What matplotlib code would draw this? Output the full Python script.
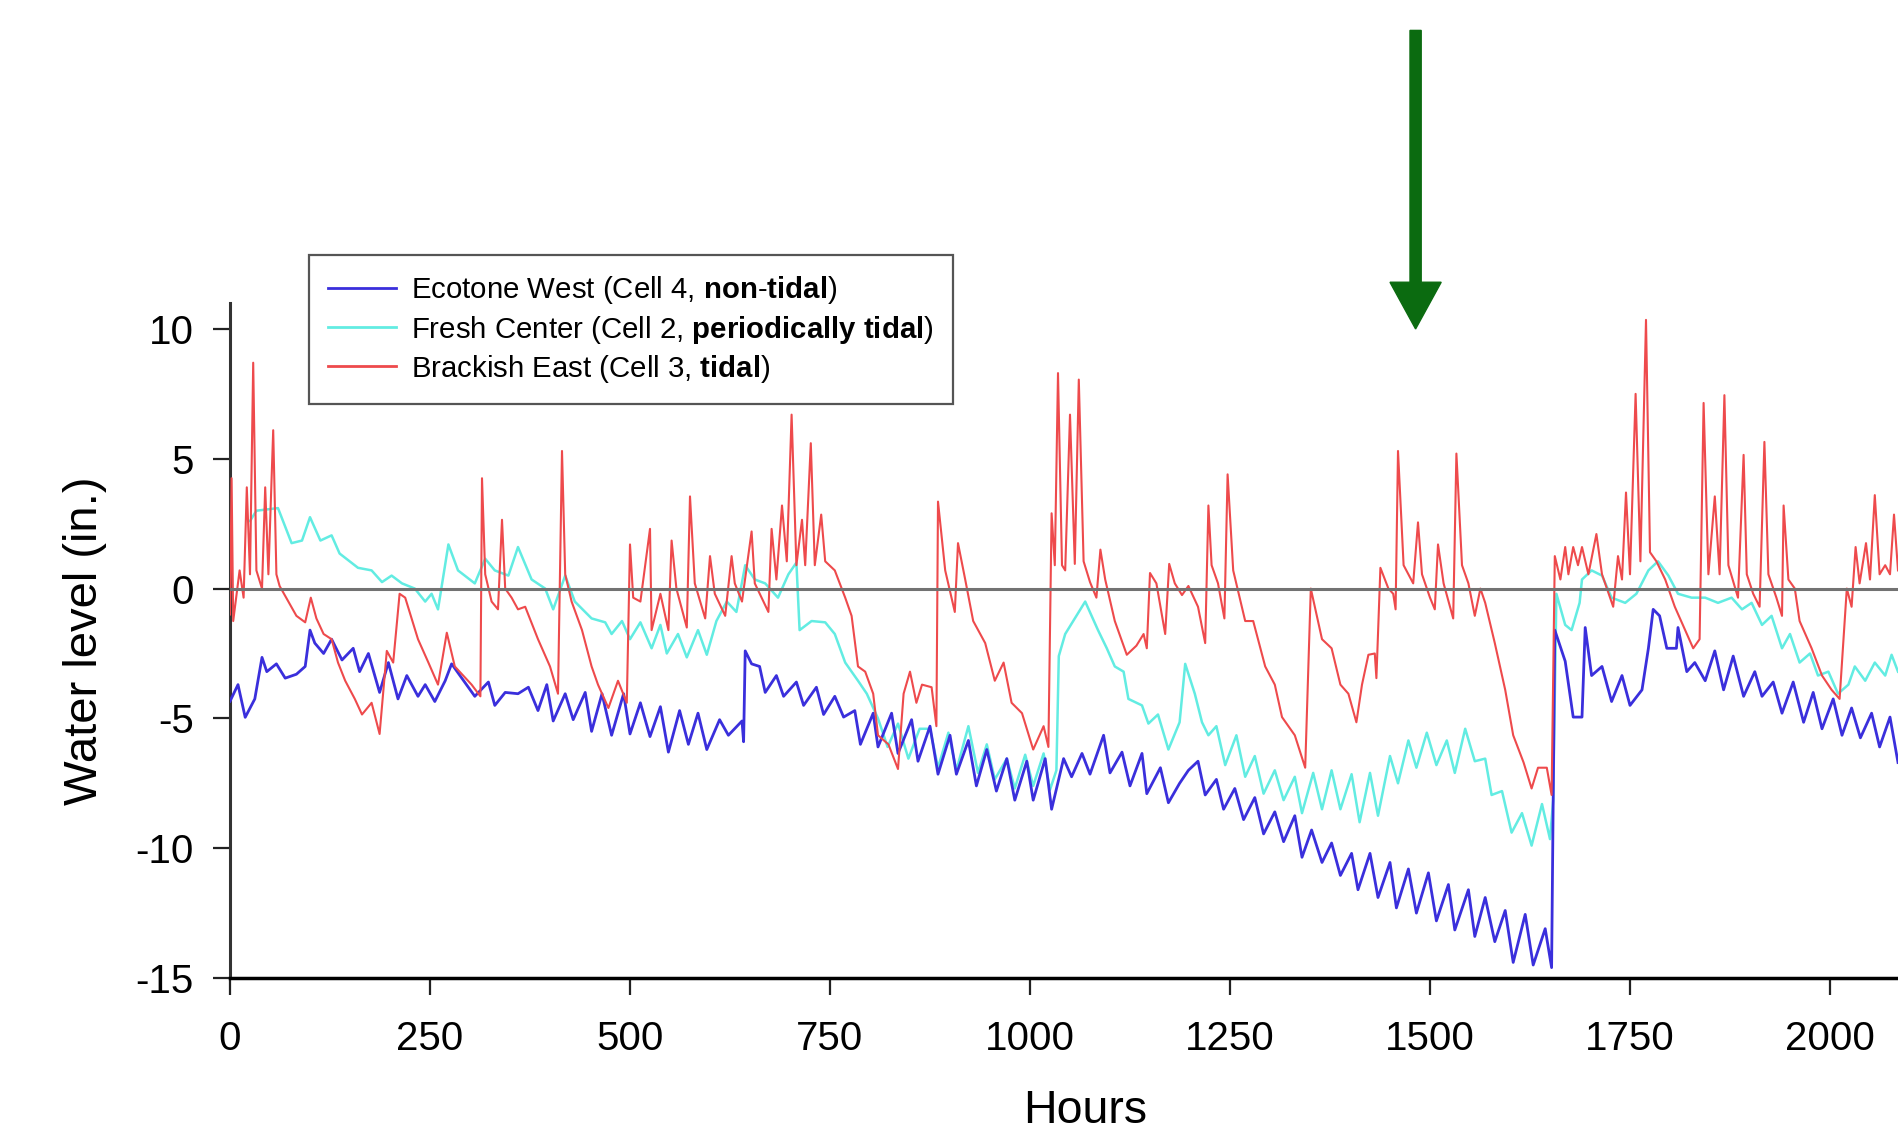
import matplotlib
matplotlib.use("Agg")
import matplotlib.pyplot as plt
from matplotlib.lines import Line2D

plt.rcParams['font.family'] = ['Liberation Sans', 'DejaVu Sans']
plt.rcParams['mathtext.fontset'] = 'custom'
plt.rcParams['mathtext.rm'] = 'Liberation Sans'
plt.rcParams['mathtext.bf'] = 'Liberation Sans:bold'
plt.rcParams['axes.unicode_minus'] = False

# Ecotone West (Cell 4) - hours / water level (in.)
eco_h = [0, 10, 19, 31, 40, 46, 58, 69, 83, 94, 100, 106, 117, 127, 140, 154, 162, 173, 187, 198,
         210, 221, 235, 244, 256, 269, 277, 292, 306, 323, 331, 344, 360, 373, 385, 396, 404, 419, 429, 444,
         452, 465, 477, 492, 500, 513, 525, 538, 548, 562, 573, 585, 596, 612, 623, 640, 642, 644, 652, 662,
         669, 683, 692, 708, 717, 733, 742, 756, 767, 781, 788, 804, 810, 827, 835, 852, 860, 875, 885, 900,
         908, 923, 933, 946, 958, 971, 981, 996, 1004, 1019, 1027, 1042, 1052, 1065, 1075, 1092, 1100, 1115, 1125, 1140,
         1146, 1163, 1173, 1187, 1198, 1210, 1219, 1233, 1242, 1256, 1267, 1281, 1292, 1306, 1317, 1331, 1340, 1352, 1365, 1377,
         1388, 1402, 1410, 1425, 1435, 1450, 1458, 1473, 1483, 1498, 1508, 1523, 1531, 1548, 1556, 1569, 1581, 1594, 1604, 1619,
         1629, 1644, 1652, 1656, 1669, 1679, 1690, 1694, 1702, 1715, 1727, 1740, 1750, 1765, 1773, 1779, 1787, 1796, 1808, 1810,
         1821, 1831, 1844, 1856, 1867, 1879, 1892, 1906, 1915, 1929, 1940, 1954, 1967, 1979, 1990, 2004, 2015, 2027, 2038, 2052,
         2062, 2075, 2085]
eco_v = [-4.34, -3.7, -4.96, -4.25, -2.65, -3.2, -2.9, -3.45, -3.3, -3.0, -1.6, -2.1, -2.5, -1.95, -2.75, -2.3, -3.2, -2.5, -4.0, -2.85,
         -4.25, -3.35, -4.15, -3.7, -4.35, -3.55, -2.9, -3.55, -4.15, -3.6, -4.5, -4.0, -4.05, -3.8, -4.7, -3.7, -5.1, -4.05, -5.05, -4.0,
         -5.5, -4.05, -5.65, -4.05, -5.6, -4.4, -5.7, -4.55, -6.3, -4.7, -6.0, -4.8, -6.2, -5.05, -5.65, -5.1, -5.9, -2.4, -2.9, -3.0,
         -4.0, -3.35, -4.15, -3.6, -4.5, -3.8, -4.85, -4.15, -4.95, -4.7, -6.0, -4.8, -6.1, -4.8, -6.35, -5.05, -6.65, -5.3, -7.15, -5.65,
         -7.15, -5.85, -7.6, -6.2, -7.8, -6.55, -8.15, -6.65, -8.15, -6.55, -8.5, -6.55, -7.25, -6.35, -7.15, -5.65, -7.1, -6.3, -7.6, -6.35,
         -7.9, -6.9, -8.25, -7.5, -7.0, -6.65, -7.95, -7.35, -8.5, -7.7, -8.9, -8.05, -9.45, -8.6, -9.75, -8.75, -10.35, -9.3, -10.55, -9.8,
         -11.05, -10.2, -11.6, -10.2, -11.9, -10.55, -12.3, -10.8, -12.5, -10.95, -12.8, -11.4, -13.15, -11.6, -13.4, -11.9, -13.6, -12.4, -14.4, -12.55,
         -14.5, -13.1, -14.6, -1.6, -2.8, -4.95, -4.95, -1.5, -3.35, -3.0, -4.35, -3.35, -4.5, -3.9, -2.3, -0.8, -1.05, -2.3, -2.3, -1.5,
         -3.2, -2.85, -3.55, -2.4, -3.9, -2.6, -4.15, -3.2, -4.15, -3.6, -4.8, -3.6, -5.15, -4.0, -5.4, -4.25, -5.65, -4.6, -5.75, -4.8,
         -6.1, -4.95, -6.7]

# Fresh Center (Cell 2)
fresh_h = [25, 33, 60, 77, 90, 100, 113, 127, 137, 160, 177, 190, 202, 215, 231, 244, 252, 260, 273, 285,
           306, 319, 331, 348, 360, 377, 394, 404, 419, 431, 452, 469, 477, 490, 500, 513, 527, 538, 546, 560,
           571, 585, 596, 608, 621, 633, 644, 656, 669, 685, 698, 708, 712, 727, 744, 756, 769, 785, 796, 810,
           822, 835, 848, 862, 875, 885, 898, 908, 923, 935, 946, 956, 971, 981, 994, 1004, 1017, 1025, 1033, 1036,
           1044, 1069, 1085, 1096, 1106, 1117, 1123, 1140, 1148, 1160, 1173, 1187, 1194, 1206, 1215, 1223, 1233, 1244, 1258, 1269,
           1281, 1292, 1306, 1317, 1331, 1340, 1354, 1365, 1377, 1388, 1402, 1412, 1425, 1435, 1450, 1460, 1473, 1483, 1496, 1508,
           1521, 1531, 1544, 1556, 1569, 1577, 1590, 1602, 1615, 1627, 1640, 1650, 1654, 1658, 1669, 1677, 1687, 1690, 1702, 1715,
           1727, 1744, 1758, 1773, 1785, 1798, 1810, 1827, 1844, 1860, 1877, 1890, 1902, 1915, 1927, 1940, 1950, 1962, 1975, 1985,
           1998, 2010, 2023, 2031, 2044, 2056, 2069, 2077, 2085]
fresh_v = [2.6, 3.0, 3.1, 1.75, 1.85, 2.75, 1.85, 2.05, 1.35, 0.8, 0.7, 0.25, 0.5, 0.2, 0.0, -0.5, -0.2, -0.8, 1.7, 0.7,
           0.2, 1.15, 0.7, 0.5, 1.6, 0.35, 0.0, -0.8, 0.5, -0.5, -1.15, -1.3, -1.75, -1.25, -1.95, -1.3, -2.3, -1.4, -2.5, -1.75,
           -2.65, -1.6, -2.55, -1.25, -0.5, -0.9, 0.9, 0.35, 0.2, -0.35, 0.55, 1.0, -1.6, -1.25, -1.3, -1.75, -2.85, -3.55, -4.05, -5.0,
           -6.1, -5.2, -6.55, -5.4, -5.4, -6.9, -5.55, -7.0, -5.3, -7.1, -6.0, -7.35, -6.55, -7.7, -6.4, -7.6, -6.35, -7.75, -7.0, -2.6,
           -1.75, -0.5, -1.6, -2.3, -3.0, -3.2, -4.25, -4.5, -5.2, -4.85, -6.2, -5.15, -2.9, -4.05, -5.15, -5.65, -5.3, -6.8, -5.65, -7.25,
           -6.45, -7.9, -7.0, -8.15, -7.25, -8.65, -7.1, -8.5, -7.0, -8.5, -7.15, -9.0, -7.1, -8.75, -6.45, -7.5, -5.85, -6.9, -5.55, -6.8,
           -5.85, -7.1, -5.4, -6.65, -6.55, -7.95, -7.8, -9.4, -8.65, -9.9, -8.3, -9.65, -8.15, -0.2, -1.4, -1.6, -0.55, 0.35, 0.7, 0.5,
           -0.35, -0.55, -0.2, 0.7, 1.05, 0.5, -0.2, -0.35, -0.35, -0.55, -0.35, -0.8, -0.55, -1.4, -1.05, -2.3, -1.75, -2.85, -2.5, -3.35,
           -3.2, -4.05, -3.7, -3.0, -3.55, -2.85, -3.35, -2.55, -3.2]

# Brackish East (Cell 3)
brack_h = [0, 2, 4, 12, 17, 21, 25, 29, 33, 40, 44, 48, 54, 58, 62, 73, 83, 94, 101, 108,
           117, 127, 135, 144, 156, 165, 177, 187, 196, 204, 212, 219, 235, 248, 260, 271, 281, 302, 313, 315,
           319, 327, 335, 340, 344, 352, 360, 369, 385, 400, 410, 415, 419, 427, 440, 452, 460, 473, 485, 496,
           500, 504, 513, 525, 527, 538, 548, 552, 558, 571, 575, 581, 594, 600, 606, 619, 627, 631, 640, 652,
           656, 673, 677, 683, 690, 696, 702, 708, 715, 719, 726, 731, 739, 744, 756, 769, 777, 785, 794, 804,
           810, 823, 835, 842, 850, 858, 865, 877, 883, 885, 894, 906, 910, 919, 929, 944, 956, 967, 977, 990,
           1004, 1017, 1023, 1027, 1031, 1035, 1040, 1044, 1050, 1056, 1061, 1067, 1075, 1083, 1088, 1094, 1106, 1121, 1133, 1142,
           1146, 1150, 1158, 1169, 1174, 1181, 1190, 1198, 1210, 1219, 1223, 1227, 1235, 1243, 1247, 1254, 1269, 1279, 1294, 1306,
           1315, 1331, 1344, 1351, 1365, 1377, 1388, 1398, 1408, 1415, 1423, 1431, 1433, 1438, 1448, 1454, 1457, 1460, 1467, 1473,
           1479, 1485, 1490, 1500, 1506, 1510, 1517, 1529, 1533, 1540, 1548, 1556, 1563, 1569, 1581, 1594, 1604, 1617, 1627, 1635,
           1646, 1652, 1656, 1663, 1669, 1673, 1679, 1685, 1690, 1698, 1708, 1715, 1729, 1735, 1740, 1745, 1750, 1757, 1763, 1770,
           1775, 1783, 1794, 1806, 1819, 1829, 1837, 1842, 1848, 1856, 1862, 1868, 1873, 1885, 1892, 1896, 1904, 1912, 1918, 1923,
           1933, 1940, 1942, 1948, 1956, 1962, 1977, 1990, 2002, 2012, 2021, 2027, 2032, 2037, 2045, 2050, 2056, 2062, 2069, 2075,
           2080, 2085]
brack_v = [-1.0, 4.25, -1.25, 0.7, -0.35, 3.9, 0.55, 8.7, 0.7, 0.0, 3.9, 0.55, 6.1, 0.55, 0.1, -0.5, -1.05, -1.3, -0.35, -1.15,
           -1.75, -1.95, -2.85, -3.55, -4.25, -4.85, -4.4, -5.6, -2.4, -2.85, -0.2, -0.35, -1.95, -2.85, -3.7, -1.7, -3.0, -3.7, -4.15, 4.25,
           0.55, -0.5, -0.8, 2.65, 0.0, -0.35, -0.8, -0.7, -1.95, -3.0, -4.05, 5.3, 0.55, -0.5, -1.6, -3.0, -3.7, -4.6, -3.55, -4.4,
           1.7, -0.35, -0.5, 2.3, -1.6, -0.2, -1.6, 1.85, 0.0, -1.5, 3.55, 0.2, -1.15, 1.25, -0.2, -1.05, 1.25, 0.2, -0.5, 2.2,
           0.2, -0.9, 2.3, 0.35, 3.2, 1.05, 6.7, 0.9, 2.65, 0.9, 5.6, 0.9, 2.85, 1.05, 0.7, -0.35, -1.05, -3.0, -3.2, -4.05,
           -5.65, -6.0, -6.95, -4.05, -3.2, -4.4, -3.7, -3.8, -5.3, 3.35, 0.7, -0.9, 1.75, 0.35, -1.25, -2.1, -3.55, -2.85, -4.4, -4.8,
           -6.2, -5.3, -6.1, 2.9, 0.9, 8.3, 0.9, 0.7, 6.7, 0.95, 8.05, 1.05, 0.25, -0.35, 1.5, 0.35, -1.25, -2.55, -2.2, -1.75,
           -2.3, 0.6, 0.2, -1.75, 0.95, 0.2, -0.25, 0.1, -0.7, -2.1, 3.2, 0.9, 0.2, -1.15, 4.4, 0.7, -1.25, -1.25, -3.0, -3.7,
           -4.95, -5.65, -6.9, 0.0, -1.95, -2.3, -3.7, -4.05, -5.15, -3.7, -2.55, -2.5, -3.45, 0.8, 0.0, -0.2, -0.8, 5.3, 0.9, 0.55,
           0.2, 2.55, 0.55, -0.35, -0.8, 1.7, 0.2, -1.15, 5.2, 0.9, 0.2, -1.05, 0.0, -0.55, -2.1, -3.9, -5.65, -6.7, -7.7, -6.9,
           -6.9, -7.95, 1.25, 0.35, 1.6, 0.55, 1.6, 0.9, 1.6, 0.55, 2.1, 0.55, -0.7, 1.25, 0.35, 3.7, 0.55, 7.5, 1.05, 10.35,
           1.4, 1.05, 0.35, -0.7, -1.6, -2.3, -1.95, 7.15, 0.55, 3.55, 0.55, 7.45, 0.9, -0.35, 5.15, 0.55, -0.2, -0.7, 5.65, 0.55,
           -0.35, -1.05, 3.2, 0.35, 0.0, -1.25, -2.3, -3.35, -3.9, -4.25, 0.0, -0.7, 1.6, 0.2, 1.75, 0.35, 3.6, 0.55, 0.9, 0.55,
           2.85, 0.7]

labels = ['Ecotone West (Cell 4, $\\mathbf{non}$-$\\mathbf{tidal}$)',
          'Fresh Center (Cell 2, $\\mathbf{periodically}$ $\\mathbf{tidal}$)',
          'Brackish East (Cell 3, $\\mathbf{tidal}$)']
colors = ['#3a2fdc', '#62ece2', '#ee4a4c']

x_ticks = [0, 250, 500, 750, 1000, 1250, 1500, 1750, 2000]
y_ticks = [-15, -10, -5, 0, 5, 10]

arrow_hour = 1482

fig = plt.figure(figsize=(18.98, 11.45), dpi=100)
ax = fig.add_axes([230 / 1898, 167 / 1145, 1668 / 1898, 675 / 1145])

ax.plot(eco_h, eco_v, color=colors[0], lw=2.0, zorder=3)
ax.plot(fresh_h, fresh_v, color=colors[1], lw=1.8, zorder=2)
ax.plot(brack_h, brack_v, color=colors[2], lw=1.5, zorder=4)
ax.axhline(0, color='#727272', lw=2.2, zorder=5)

ax.set_xlim(0, 2085)
ax.set_ylim(-15, 11)
ax.set_xticks(x_ticks)
ax.set_yticks(y_ticks)
ax.tick_params(axis='both', direction='out', length=12, width=1.6, labelsize=29, color='#222222')
ax.tick_params(axis='x', pad=18)
ax.tick_params(axis='y', pad=14)

for s in ['top', 'right']:
    ax.spines[s].set_visible(False)
ax.spines['left'].set_linewidth(2.2)
ax.spines['left'].set_color('#333333')
ax.spines['bottom'].set_linewidth(2.5)

ax.set_xlabel('Hours', fontsize=33.5)
ax.xaxis.set_label_coords(0.5126, -0.165)
ax.set_ylabel('Water level (in.)', fontsize=34)
ax.yaxis.set_label_coords(-0.074, 0.5)

handles = [Line2D([], [], color=c, lw=2.0) for c in colors]
leg = ax.legend(handles, labels, loc='upper left', bbox_to_anchor=(309 / 1898, 1 - 255 / 1145),
                bbox_transform=fig.transFigure, borderaxespad=0, fontsize=21.2, frameon=True,
                fancybox=False, framealpha=1, edgecolor='#555555', borderpad=0.66,
                labelspacing=0.24, handlelength=2.3, handletextpad=0.52)
leg.get_frame().set_linewidth(1.6)
leg.set_zorder(10)

# green arrow above the plot
ax.arrow(arrow_hour, 21.5, 0, 10.0 - 21.5, width=14, head_width=64, head_length=1.8,
         length_includes_head=True, color='#0b6b10', clip_on=False, zorder=6)

fig.savefig('out.png', dpi=100)
